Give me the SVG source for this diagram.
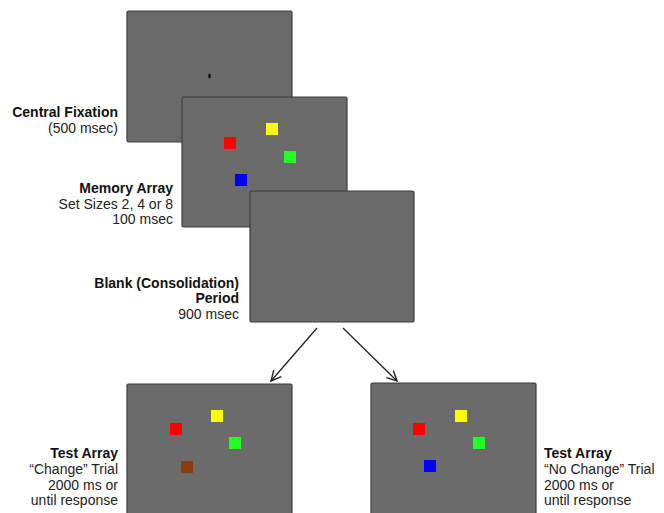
<svg xmlns="http://www.w3.org/2000/svg" width="664" height="513" viewBox="0 0 664 513">
<style>
.scr{fill:#6b6b6b;stroke:#3c3c3c;stroke-width:1.2}
.lb{font-family:"Liberation Sans",Arial,sans-serif;font-size:14px;fill:#222}
.b{font-weight:bold;fill:#111}
.r{text-anchor:end}
.conn{stroke:#222;stroke-width:1.3;fill:none;marker-end:url(#ah)}
</style>
<defs>
<marker id="ah" viewBox="0 0 12 12" refX="11" refY="6" markerWidth="12" markerHeight="12" markerUnits="userSpaceOnUse" orient="auto">
<path d="M1,1 L11,6 L1,11" fill="none" stroke="#222" stroke-width="1.4"/>
</marker>
</defs>
<rect width="664" height="513" fill="#fff"/>
<g id="fixation">
<rect class="scr" x="127" y="11" width="165" height="131" rx="1.5"/>
<ellipse cx="209.5" cy="76" rx="1.3" ry="2.4" fill="#111"/>
<text class="lb b r" x="118" y="117">Central Fixation</text>
<text class="lb r" x="118" y="133">(500 msec)</text>
</g>
<g id="memory">
<rect class="scr" x="182" y="97" width="165" height="130" rx="1.5"/>
<rect x="224" y="137" width="12" height="12" fill="#ff0000"/>
<rect x="266" y="123" width="12" height="12" fill="#ffff00"/>
<rect x="284" y="151" width="12" height="12" fill="#22ff22"/>
<rect x="235" y="174" width="12" height="12" fill="#0000ff"/>
<text class="lb b r" x="173" y="193">Memory Array</text>
<text class="lb r" x="173" y="209">Set Sizes 2, 4 or 8</text>
<text class="lb r" x="173" y="224">100 msec</text>
</g>
<g id="blank">
<rect class="scr" x="250" y="191" width="164" height="131" rx="1.5"/>
<text class="lb b r" x="239" y="288">Blank (Consolidation)</text>
<text class="lb b r" x="239" y="303">Period</text>
<text class="lb r" x="239" y="319">900 msec</text>
</g>
<g id="test-change">
<rect class="scr" x="127" y="384" width="165" height="135" rx="1.5"/>
<rect x="170" y="423" width="12" height="12" fill="#ff0000"/>
<rect x="211" y="410" width="12" height="12" fill="#ffff00"/>
<rect x="229" y="437" width="12" height="12" fill="#22ff22"/>
<rect x="181" y="461" width="12" height="12" fill="#8a3d10"/>
<text class="lb b r" x="118" y="458">Test Array</text>
<text class="lb r" x="118" y="474">“Change” Trial</text>
<text class="lb r" x="118" y="490">2000 ms or</text>
<text class="lb r" x="118" y="505">until response</text>
</g>
<g id="test-nochange">
<rect class="scr" x="371" y="383" width="165" height="136" rx="1.5"/>
<rect x="413" y="423" width="12" height="12" fill="#ff0000"/>
<rect x="455" y="410" width="12" height="12" fill="#ffff00"/>
<rect x="473" y="437" width="12" height="12" fill="#22ff22"/>
<rect x="424" y="460" width="12" height="12" fill="#0000ff"/>
<text class="lb b" x="544" y="458">Test Array</text>
<text class="lb" x="544" y="474">“No Change” Trial</text>
<text class="lb" x="544" y="490">2000 ms or</text>
<text class="lb" x="544" y="505">until response</text>
</g>
<g id="connectors">
<line class="conn" x1="317" y1="328" x2="271" y2="381"/>
<line class="conn" x1="343" y1="328" x2="397" y2="381"/>
</g>
</svg>
